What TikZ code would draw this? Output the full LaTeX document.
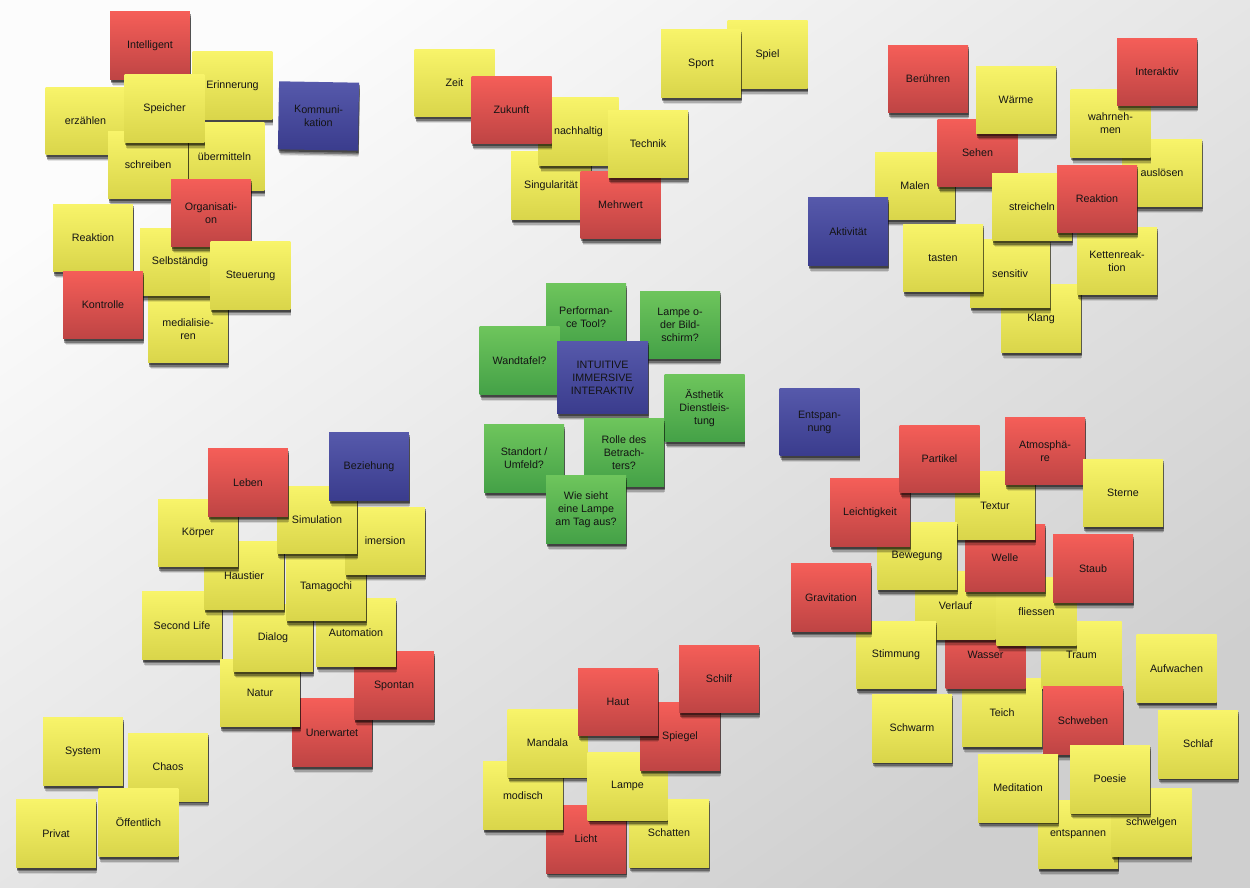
\documentclass[tikz,border=0pt]{standalone}
\usepackage{fontspec}
\setmainfont{Liberation Sans}
\usetikzlibrary{shadows}
\definecolor{yelT}{HTML}{F8F46A}
\definecolor{yelB}{HTML}{D9D54A}
\definecolor{redT}{HTML}{F55E58}
\definecolor{redB}{HTML}{BE4444}
\definecolor{bluT}{HTML}{5659AB}
\definecolor{bluB}{HTML}{3A3C8D}
\definecolor{grnT}{HTML}{6EC55C}
\definecolor{grnB}{HTML}{44A147}
\definecolor{bgA}{HTML}{FCFCFC}
\definecolor{bgB}{HTML}{CFCFCF}
\tikzset{
 postit/.style={rectangle, minimum width=1.6cm, minimum height=1.36cm, inner sep=0pt,
   align=center, font=\fontsize{6.1}{7.4}\selectfont, text=black!92,
   drop shadow={shadow xshift=0.4pt, shadow yshift=-1.2pt, opacity=0.4, fill=black},
   drop shadow={shadow xshift=0.6pt, shadow yshift=-2.2pt, shadow scale=0.995, opacity=0.32, fill=black},
   drop shadow={shadow xshift=0.8pt, shadow yshift=-3.2pt, shadow scale=0.985, opacity=0.2, fill=black},
   drop shadow={shadow xshift=0.9pt, shadow yshift=-4.2pt, shadow scale=0.97, opacity=0.1, fill=black}},
 yel/.style={postit, top color=yelT, bottom color=yelB},
 rednote/.style={postit, top color=redT, bottom color=redB},
 blunote/.style={postit, top color=bluT, bottom color=bluB},
 grnnote/.style={postit, top color=grnT, bottom color=grnB},
 bignote/.style={minimum width=1.82cm, minimum height=1.46cm}
}
\newcommand\sticky[6][0]{\node[#3,rotate=#1] (#2) at (#4,#5) {#6};}
\begin{document}
\begin{tikzpicture}[x=0.02cm,y=-0.02cm]
\useasboundingbox (0,0) rectangle (1250,888);
\shade[top color=bgA, bottom color=bgB, shading angle=35] (0,0) rectangle (1250,888);
% cluster NW
\sticky{erzaehlen}{yel}{85.5}{121}{erzählen}
\sticky{erinnerung}{yel}{232.5}{85.5}{Erinnerung}
\sticky{intelligent}{rednote}{150}{45.5}{Intelligent}
\sticky{uebermitteln}{yel}{224.5}{156.5}{übermitteln}
\sticky{schreiben}{yel}{148}{165}{schreiben}
\sticky{speicher}{yel}{164.5}{108.5}{Speicher}
\sticky{reaktionA}{yel}{93}{238}{Reaktion}
\sticky{medialisieren}{yel}{188}{329}{medialisie-\\ren}
\sticky{selbstaendig}{yel}{180}{262}{Selbständig}
\sticky{organisation}{rednote}{211}{213}{Organisati-\\on}
\sticky{steuerung}{yel}{250.5}{275.5}{Steuerung}
\sticky{kontrolle}{rednote}{103}{305}{Kontrolle}
\sticky[-1]{kommunikation}{blunote}{318.5}{116}{Kommuni-\\kation}
% cluster N
\sticky{zeit}{yel}{454.5}{83}{Zeit}
\sticky{singularitaet}{yel}{551}{185.5}{Singularität}
\sticky{nachhaltig}{yel}{578.5}{131.5}{nachhaltig}
\sticky{zukunft}{rednote}{511.5}{110}{Zukunft}
\sticky{mehrwert}{rednote}{620.5}{205}{Mehrwert}
\sticky{technik}{yel}{648}{144}{Technik}
\sticky{spiel}{yel}{767.5}{54.5}{Spiel}
\sticky{sport}{yel}{701}{63.5}{Sport}
% cluster NE
\sticky{klang}{yel}{1041}{318.5}{Klang}
\sticky{beruehren}{rednote}{928}{79}{Berühren}
\sticky{malen}{yel}{915}{186}{Malen}
\sticky{sehen}{rednote}{977.5}{153}{Sehen}
\sticky{waerme}{yel}{1016}{100}{Wärme}
\sticky{ausloesen}{yel}{1162}{173}{auslösen}
\sticky{wahrnehmen}{yel}{1110.5}{123.5}{wahrneh-\\men}
\sticky{interaktiv}{rednote}{1157}{72}{Interaktiv}
\sticky{sensitiv}{yel}{1010}{273.5}{sensitiv}
\sticky{streicheln}{yel}{1032}{207}{streicheln}
\sticky{kettenreaktion}{yel}{1117}{261}{Kettenreak-\\tion}
\sticky{reaktionB}{rednote}{1097}{199}{Reaktion}
\sticky{tasten}{yel}{943}{258}{tasten}
\sticky{aktivitaet}{blunote}{848}{231.5}{Aktivität}
% centre
\sticky{performance}{grnnote}{586}{317.5}{Performan-\\ce Tool?}
\sticky{lampebild}{grnnote}{680}{325}{Lampe o-\\der Bild-\\schirm?}
\sticky{wandtafel}{grnnote}{519.5}{360.5}{Wandtafel?}
\sticky{intuitive}{blunote,bignote}{602.5}{377.5}{INTUITIVE\\IMMERSIVE\\INTERAKTIV}
\sticky{aesthetik}{grnnote}{704.5}{408}{Ästhetik\\Dienstleis-\\tung}
\sticky{standort}{grnnote}{524}{458.5}{Standort /\\Umfeld?}
\sticky{rolle}{grnnote}{624}{452.5}{Rolle des\\Betrach-\\ters?}
\sticky{wiesieht}{grnnote}{586}{509.5}{Wie sieht\\eine Lampe\\am Tag aus?}
% cluster SW
\sticky{secondlife}{yel}{182}{625.5}{Second Life}
\sticky{unerwartet}{rednote}{332}{732.5}{Unerwartet}
\sticky{natur}{yel}{260}{693}{Natur}
\sticky{spontan}{rednote}{394}{685.5}{Spontan}
\sticky{automation}{yel}{356}{632.5}{Automation}
\sticky{dialog}{yel}{273}{638}{Dialog}
\sticky{haustier}{yel}{244}{575.5}{Haustier}
\sticky{koerper}{yel}{198}{533}{Körper}
\sticky{tamagochi}{yel}{326}{587}{Tamagochi}
\sticky{imersion}{yel}{385}{541}{imersion}
\sticky{simulation}{yel}{317}{520}{Simulation}
\sticky{leben}{rednote}{248}{482.5}{Leben}
\sticky{beziehung}{blunote}{369}{466.5}{Beziehung}
\sticky{system}{yel}{83}{751.5}{System}
\sticky{chaos}{yel}{168}{767}{Chaos}
\sticky{privat}{yel}{56}{833.5}{Privat}
\sticky{oeffentlich}{yel}{138.5}{822.5}{Öffentlich}
% cluster S
\sticky{licht}{rednote}{586}{839}{Licht}
\sticky{schatten}{yel}{669}{833}{Schatten}
\sticky{modisch}{yel}{523}{795.5}{modisch}
\sticky{mandala}{yel}{547.5}{743}{Mandala}
\sticky{lampe}{yel}{627.5}{786}{Lampe}
\sticky{spiegel}{rednote}{680}{736.5}{Spiegel}
\sticky{haut}{rednote}{618}{702}{Haut}
\sticky{schilf}{rednote}{719}{679}{Schilf}
% cluster SE
\sticky{entspannung}{blunote}{819.5}{422}{Entspan-\\nung}
\sticky{teich}{yel}{1002}{712.5}{Teich}
\sticky{traum}{yel}{1081.5}{655}{Traum}
\sticky{wasser}{rednote}{985.5}{655}{Wasser}
\sticky{verlauf}{yel}{955.5}{605.5}{Verlauf}
\sticky{fliessen}{yel}{1036.5}{611.5}{fliessen}
\sticky{welle}{rednote}{1005}{558}{Welle}
\sticky{textur}{yel}{995}{505.5}{Textur}
\sticky{staub}{rednote}{1093}{568.5}{Staub}
\sticky{stimmung}{yel}{896}{655}{Stimmung}
\sticky{gravitation}{rednote}{831}{597.5}{Gravitation}
\sticky{bewegung}{yel}{917}{556}{Bewegung}
\sticky{leichtigkeit}{rednote}{870}{512.5}{Leichtigkeit}
\sticky{partikel}{rednote}{939.5}{459}{Partikel}
\sticky{atmosphaere}{rednote}{1045}{451}{Atmosphä-\\re}
\sticky{sterne}{yel}{1123}{493}{Sterne}
\sticky{schweben}{rednote}{1083}{720.5}{Schweben}
\sticky{entspannen}{yel}{1078}{834.5}{entspannen}
\sticky{meditation}{yel}{1018}{788}{Meditation}
\sticky{schwelgen}{yel}{1151.5}{822.5}{schwelgen}
\sticky{poesie}{yel}{1110}{779}{Poesie}
\sticky{schwarm}{yel}{912}{728}{Schwarm}
\sticky{aufwachen}{yel}{1176.5}{668.5}{Aufwachen}
\sticky{schlaf}{yel}{1198}{744}{Schlaf}
\end{tikzpicture}
\end{document}
